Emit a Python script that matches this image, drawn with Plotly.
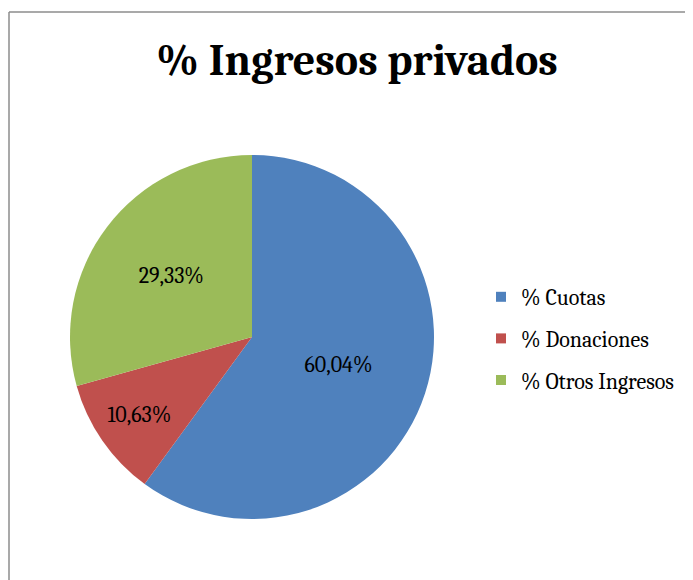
import plotly.graph_objects as go

categories = ["% Cuotas", "% Donaciones", "% Otros Ingresos"]
values = [60.04, 10.63, 29.33]
colors = ["#4F81BD", "#C0504D", "#9BBB59"]

# the page body adds an 8px margin, so the figure is 8px smaller and shifted
W, H = 685, 572
SERIF = "Cambria, 'Liberation Serif', 'DejaVu Serif', serif"

fig = go.Figure()

fig.add_trace(
    go.Pie(
        labels=categories,
        values=values,
        sort=False,
        direction="clockwise",
        rotation=0,
        marker=dict(colors=colors, line=dict(width=0)),
        texttemplate="%{value:.2f}%",
        textposition="inside",
        insidetextorientation="horizontal",
        insidetextfont=dict(family=SERIF, size=22, color="black"),
        hoverinfo="label+percent",
        showlegend=False,
        domain=dict(x=[62 / W, 426 / W], y=[(H - 511) / H, (H - 147) / H]),
    )
)

# legend entries as separate groups so the row spacing can match the reference
for name, col in zip(categories, colors):
    fig.add_trace(
        go.Scatter(
            x=[None],
            y=[None],
            mode="markers",
            name=name,
            legendgroup=name,
            marker=dict(symbol="square", size=10, color=col),
        )
    )

fig.update_layout(
    width=W,
    height=H,
    margin=dict(l=0, r=0, t=0, b=0),
    paper_bgcolor="white",
    plot_bgcolor="white",
    separators=",.",
    title=dict(
        text="<b>% Ingresos privados</b>",
        x=349 / W,
        xanchor="center",
        y=1 - 52 / H,
        yanchor="middle",
        font=dict(family=SERIF, size=44, color="black"),
    ),
    legend=dict(
        x=473 / W,
        xanchor="left",
        y=1 - 268 / H,
        yanchor="top",
        font=dict(family=SERIF, size=22, color="black"),
        tracegroupgap=10,
        itemwidth=30,
    ),
    xaxis=dict(visible=False),
    yaxis=dict(visible=False),
    shapes=[
        dict(type="line", xref="paper", yref="paper", x0=1 / W, x1=1 / W,
             y0=0, y1=1 - 4 / H, line=dict(color="#8c8c8c", width=1.5)),
        dict(type="line", xref="paper", yref="paper", x0=1 / W, x1=1,
             y0=1 - 4 / H, y1=1 - 4 / H, line=dict(color="#8c8c8c", width=1.5)),
    ],
)

fig.write_html("out.html")
